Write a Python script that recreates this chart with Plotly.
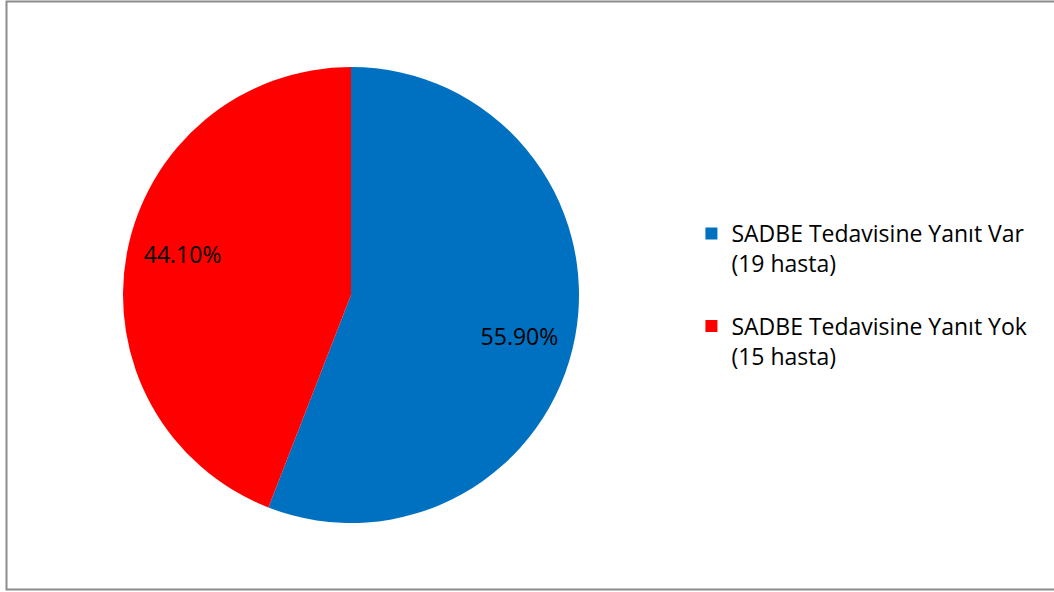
import plotly.graph_objects as go

labels = ["SADBE Tedavisine Yanıt Var<br>(19 hasta)<br> ", "SADBE Tedavisine Yanıt Yok<br>(15 hasta)<br> "]
values = [55.9, 44.1]
text_labels = ["55.90%", "44.10%"]
colors = ["#0070C0", "#FF0000"]

W, H = 1054, 592
FONT = "Open Sans, Lato, sans-serif"
dom = dict(x=[123 / W, 579 / W], y=[(H - 523) / H, (H - 67) / H])

fig = go.Figure()
fig.add_trace(go.Pie(
    labels=labels, values=values, textinfo="none",
    sort=False, direction="clockwise", rotation=0,
    marker=dict(colors=colors, line=dict(width=0)),
    domain=dom, hoverinfo="label+percent",
))
# transparent ring carrying the data labels further out
fig.add_trace(go.Pie(
    labels=labels, values=values, text=text_labels, hole=0.52,
    textinfo="text", textposition="inside", insidetextorientation="horizontal",
    sort=False, direction="clockwise", rotation=3, showlegend=False,
    marker=dict(colors=["rgba(0,0,0,0)"] * 2, line=dict(width=0)),
    textfont=dict(family=FONT, size=23, color="#000000"),
    domain=dom, hoverinfo="skip",
))
fig.update_layout(
    width=W, height=H, margin=dict(l=0, r=0, t=0, b=0),
    paper_bgcolor="white", plot_bgcolor="white",
    font=dict(family=FONT, size=23, color="#000000"),
    legend=dict(x=0.656, y=0.642, xanchor="left", yanchor="top", valign="top",
                font=dict(size=23), itemwidth=30),
    shapes=[dict(type="rect", xref="paper", yref="paper",
                 x0=6.5 / W, x1=1.01, y0=(H - 589.5) / H, y1=(H - 1.5) / H,
                 line=dict(color="#8C8C8C", width=2), fillcolor="rgba(0,0,0,0)")],
)
fig.write_html("out.html")
